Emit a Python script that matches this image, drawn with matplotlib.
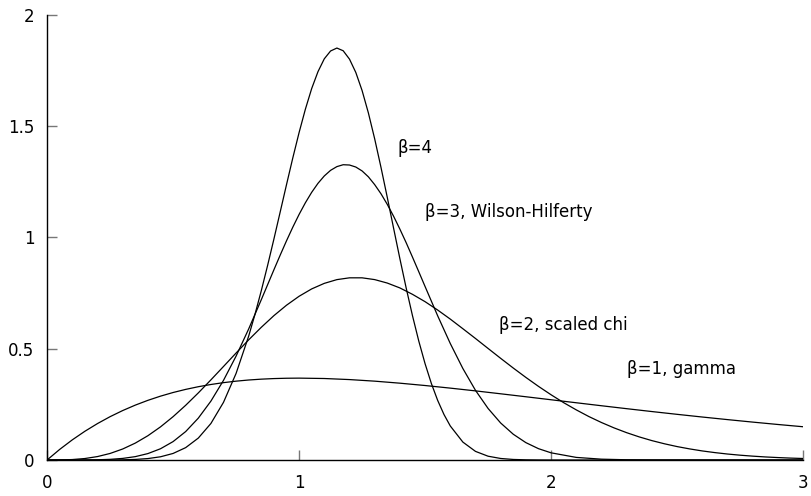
import matplotlib
matplotlib.use("Agg")
import matplotlib.pyplot as plt

plt.rcParams['font.family'] = ['DejaVu Sans']

# values
x_b1 = [0.0, 0.05, 0.1, 0.15, 0.2, 0.25, 0.3, 0.35, 0.4, 0.45, 0.5, 0.55, 0.6, 0.65,
        0.7, 0.75, 0.8, 0.85, 0.9, 0.95, 1.0,
        1.1, 1.2, 1.3, 1.4, 1.5, 1.6, 1.7, 1.8, 1.9, 2.0,
        2.1, 2.2, 2.3, 2.4, 2.5, 2.6, 2.7, 2.8, 2.9, 3.0]
gamma_b1 = [0.0, 0.0476, 0.0905, 0.1291, 0.1637, 0.1947, 0.2222, 0.2466, 0.2681, 0.2869, 0.3033, 0.3173, 0.3293, 0.3393,
            0.3476, 0.3543, 0.3595, 0.3633, 0.3659, 0.3674, 0.3679,
            0.3662, 0.3614, 0.3543, 0.3452, 0.3347, 0.3230, 0.3106, 0.2975, 0.2842, 0.2707,
            0.2572, 0.2438, 0.2306, 0.2177, 0.2052, 0.1931, 0.1815, 0.1703, 0.1596, 0.1494]

x_b2 = [0.0, 0.05, 0.1, 0.15, 0.2, 0.25, 0.3, 0.35, 0.4, 0.45, 0.5, 0.55, 0.6, 0.65, 0.7, 0.75,
        0.8, 0.85, 0.9, 0.95, 1.0, 1.05, 1.1, 1.15, 1.2, 1.25, 1.3, 1.35, 1.4, 1.45, 1.5,
        1.55, 1.6, 1.65, 1.7, 1.75, 1.8, 1.85, 1.9, 1.95, 2.0, 2.05, 2.1, 2.15, 2.2, 2.25,
        2.3, 2.35, 2.4, 2.45, 2.5, 2.55, 2.6, 2.65, 2.7, 2.75, 2.8, 2.85, 2.9, 2.95, 3.0]
chi_b2 = [0.0, 0.0002, 0.0020, 0.0066, 0.0154, 0.0294, 0.0494, 0.0759, 0.1091, 0.1488, 0.1947, 0.2459, 0.3014, 0.3600, 0.4202, 0.4808,
          0.5400, 0.5963, 0.6487, 0.6955, 0.7358, 0.7689, 0.7938, 0.8106, 0.8187, 0.8187, 0.8107, 0.7952, 0.7733, 0.7445, 0.7115,
          0.6739, 0.6332, 0.5899, 0.5461, 0.5013, 0.4568, 0.4132, 0.3711, 0.3309, 0.2931, 0.2576, 0.2252, 0.1952, 0.1684, 0.1442,
          0.1227, 0.1037, 0.0871, 0.0728, 0.0603, 0.0498, 0.0407, 0.0332, 0.0268, 0.0216, 0.0173, 0.0137, 0.0109, 0.0085, 0.0067]

x_b3 = [0.0, 0.05, 0.1, 0.15, 0.2, 0.25, 0.3, 0.35, 0.4, 0.45, 0.5, 0.55, 0.6, 0.65, 0.7, 0.75, 0.8, 0.85, 0.9,
        0.925, 0.95, 0.975, 1.0, 1.025, 1.05, 1.075, 1.1, 1.125, 1.15, 1.175, 1.2, 1.225, 1.25, 1.275, 1.3,
        1.325, 1.35, 1.375, 1.4, 1.425, 1.45, 1.475,
        1.5, 1.55, 1.6, 1.65, 1.7, 1.75, 1.8, 1.85, 1.9, 1.95, 2.0, 2.1, 2.2, 2.3, 2.4, 2.6, 2.8, 3.0]
wh_b3 = [0.0, 0.0, 0.0, 0.0002, 0.0010, 0.0029, 0.0071, 0.0151, 0.0288, 0.0505, 0.0827, 0.1278, 0.1880, 0.2645, 0.3578, 0.4669, 0.5891, 0.7203, 0.8546,
         0.9207, 0.9849, 1.0462, 1.1036, 1.1561, 1.2030, 1.2434, 1.2765, 1.3018, 1.3185, 1.3270, 1.3257, 1.3167, 1.2991, 1.2726, 1.2375,
         1.1965, 1.1488, 1.0955, 1.0376, 0.9764, 0.9118, 0.8460,
         0.7796, 0.6479, 0.5235, 0.4110, 0.3130, 0.2316, 0.1662, 0.1157, 0.0780, 0.0509, 0.0322, 0.0116, 0.0037, 0.0010, 0.0002, 0.0, 0.0, 0.0]

x_b4 = [0.0, 0.05, 0.1, 0.15, 0.2, 0.25, 0.3, 0.35, 0.4, 0.45, 0.5, 0.55, 0.6, 0.65, 0.7, 0.75, 0.8,
        0.825, 0.85, 0.875, 0.9, 0.925, 0.95, 0.975, 1.0, 1.025, 1.05, 1.075, 1.1, 1.125, 1.15, 1.175, 1.2,
        1.225, 1.25, 1.275, 1.3, 1.325, 1.35, 1.375, 1.4, 1.425, 1.45, 1.475, 1.5, 1.525, 1.55, 1.575,
        1.6, 1.65, 1.7, 1.75, 1.8, 1.85, 1.9, 1.95, 2.0, 2.2, 2.5, 3.0]
b4 = [0.0, 0.0, 0.0, 0.0, 0.0, 0.0002, 0.0009, 0.0025, 0.0064, 0.0144, 0.0294, 0.0556, 0.0984, 0.1640, 0.2591, 0.3892, 0.5569,
      0.6547, 0.7608, 0.8740, 0.9926, 1.1146, 1.2371, 1.3573, 1.4715, 1.5767, 1.6694, 1.7453, 1.8030, 1.8382, 1.8514, 1.8392, 1.8016,
      1.7419, 1.6605, 1.5597, 1.4432, 1.3152, 1.1801, 1.0419, 0.9048, 0.7727, 0.6485, 0.5344, 0.4326, 0.3436, 0.2677, 0.2044,
      0.1529, 0.0804, 0.0387, 0.0170, 0.0068, 0.0024, 0.0008, 0.0002, 0.0, 0.0, 0.0, 0.0]

labels = ['β=4', 'β=3, Wilson-Hilferty', 'β=2, scaled chi', 'β=1, gamma']
label_x = [1.39, 1.50, 1.795, 2.30]
label_y = [1.40, 1.115, 0.607, 0.41]

fig = plt.figure(figsize=(8.12, 4.96), dpi=100)
ax = fig.add_axes([0.058, 0.0726, 0.931, 0.8972])

for xs, ys in [(x_b1, gamma_b1), (x_b2, chi_b2), (x_b3, wh_b3), (x_b4, b4)]:
    ax.plot(xs, ys, color='black', lw=0.9, solid_joinstyle='round')

for t, tx, ty in zip(labels, label_x, label_y):
    ax.text(tx, ty, t, fontsize=12, va='center', ha='left')

ax.set_xlim(0, 3)
ax.set_ylim(0, 2)
ax.set_xticks([0, 1, 2, 3])
ax.set_xticklabels(['0', '1', '2', '3'])
ax.set_yticks([0, 0.5, 1, 1.5, 2])
ax.set_yticklabels(['0', '0.5', '1', '1.5', '2'])
ax.spines['top'].set_visible(False)
ax.spines['right'].set_visible(False)
for s in ['left', 'bottom']:
    ax.spines[s].set_linewidth(1.0)
ax.tick_params(direction='in', length=7, width=1.0, color='#777777', labelsize=12)
ax.tick_params(axis='y', pad=9)
ax.tick_params(axis='x', pad=10)

fig.savefig('out.png', dpi=100)
